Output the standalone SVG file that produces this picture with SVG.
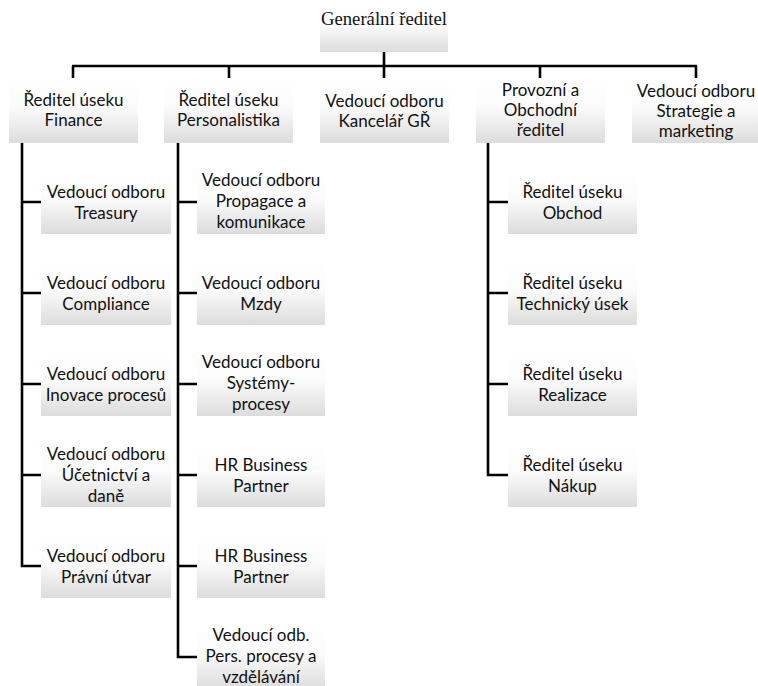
<svg xmlns="http://www.w3.org/2000/svg" width="758" height="686" viewBox="0 0 758 686">
<defs>
<linearGradient id="g" x1="0" y1="0" x2="0" y2="1">
<stop offset="0" stop-color="#ffffff"/>
<stop offset="0.45" stop-color="#fbfbfb"/>
<stop offset="1" stop-color="#dcdcdc"/>
</linearGradient>
</defs>
<style>
.box{fill:url(#g);stroke:none}
.t{font-family:Lato,"Liberation Sans",sans-serif;font-size:17px;fill:#111;text-anchor:middle}
.top{font-family:"Liberation Serif",serif;font-size:18.7px;fill:#111;text-anchor:middle}
.c{stroke:#000;stroke-width:2.6;fill:none}
</style>
<rect width="758" height="686" fill="#fff"/>
<g id="connectors">
<path class="c" d="M384 52V83M72 66H697M73 66V78M229 66V78M540 66V78M696 66V78"/>
<path class="c" d="M22 143V566H41M22 202H41M22 293H41M22 384H41M22 475H41"/>
<path class="c" d="M178 143V657H197M178 202H197M178 293H197M178 384H197M178 475H197M178 566H197"/>
<path class="c" d="M488 143V475H508M488 202H508M488 293H508M488 384H508"/>
</g>
<g id="n-gr"><rect class="box" x="320" y="4" width="128" height="48"/><text class="top" x="384" y="25">Generální ředitel</text></g>
<g id="n-fin"><rect class="box" x="9" y="78" width="129" height="65"/><text class="t" x="73.5" y="106">Ředitel úseku</text><text class="t" x="73.5" y="126">Finance</text></g>
<g id="n-per"><rect class="box" x="164" y="78" width="129" height="65"/><text class="t" x="228.5" y="106">Ředitel úseku</text><text class="t" x="228.5" y="126">Personalistika</text></g>
<g id="n-kan"><rect class="box" x="320" y="78" width="129" height="65"/><text class="t" x="384.5" y="107">Vedoucí odboru</text><text class="t" x="384.5" y="127">Kancelář GŘ</text></g>
<g id="n-pro"><rect class="box" x="476" y="78" width="129" height="65"/><text class="t" x="540.5" y="96">Provozní a</text><text class="t" x="540.5" y="116">Obchodní</text><text class="t" x="540.5" y="136">ředitel</text></g>
<g id="n-str"><rect class="box" x="632" y="78" width="128" height="65"/><text class="t" x="696" y="97">Vedoucí odboru</text><text class="t" x="696" y="117">Strategie a</text><text class="t" x="696" y="137">marketing</text></g>

<g id="n-f1"><rect class="box" x="41" y="170" width="130" height="64"/><text class="t" x="106" y="198">Vedoucí odboru</text><text class="t" x="106" y="219">Treasury</text></g>
<g id="n-f2"><rect class="box" x="41" y="261" width="130" height="64"/><text class="t" x="106" y="289">Vedoucí odboru</text><text class="t" x="106" y="310">Compliance</text></g>
<g id="n-f3"><rect class="box" x="41" y="352" width="130" height="64"/><text class="t" x="106" y="380">Vedoucí odboru</text><text class="t" x="106" y="401">Inovace procesů</text></g>
<g id="n-f4"><rect class="box" x="41" y="443" width="130" height="64"/><text class="t" x="106" y="460">Vedoucí odboru</text><text class="t" x="106" y="481">Účetnictví a</text><text class="t" x="106" y="502">daně</text></g>
<g id="n-f5"><rect class="box" x="41" y="534" width="130" height="64"/><text class="t" x="106" y="562">Vedoucí odboru</text><text class="t" x="106" y="583">Právní útvar</text></g>

<g id="n-p1"><rect class="box" x="197" y="170" width="128" height="64"/><text class="t" x="261" y="186">Vedoucí odboru</text><text class="t" x="261" y="207">Propagace a</text><text class="t" x="261" y="228">komunikace</text></g>
<g id="n-p2"><rect class="box" x="197" y="261" width="128" height="64"/><text class="t" x="261" y="289">Vedoucí odboru</text><text class="t" x="261" y="310">Mzdy</text></g>
<g id="n-p3"><rect class="box" x="197" y="352" width="128" height="64"/><text class="t" x="261" y="368">Vedoucí odboru</text><text class="t" x="261" y="389">Systémy-</text><text class="t" x="261" y="410">procesy</text></g>
<g id="n-p4"><rect class="box" x="197" y="443" width="128" height="64"/><text class="t" x="261" y="471">HR Business</text><text class="t" x="261" y="492">Partner</text></g>
<g id="n-p5"><rect class="box" x="197" y="534" width="128" height="64"/><text class="t" x="261" y="562">HR Business</text><text class="t" x="261" y="583">Partner</text></g>
<g id="n-p6"><rect class="box" x="197" y="625" width="128" height="64"/><text class="t" x="261" y="641">Vedoucí odb.</text><text class="t" x="261" y="662">Pers. procesy a</text><text class="t" x="261" y="683">vzdělávání</text></g>

<g id="n-o1"><rect class="box" x="508" y="170" width="129" height="64"/><text class="t" x="572.5" y="198">Ředitel úseku</text><text class="t" x="572.5" y="219">Obchod</text></g>
<g id="n-o2"><rect class="box" x="508" y="261" width="129" height="64"/><text class="t" x="572.5" y="289">Ředitel úseku</text><text class="t" x="572.5" y="310">Technický úsek</text></g>
<g id="n-o3"><rect class="box" x="508" y="352" width="129" height="64"/><text class="t" x="572.5" y="380">Ředitel úseku</text><text class="t" x="572.5" y="401">Realizace</text></g>
<g id="n-o4"><rect class="box" x="508" y="443" width="129" height="64"/><text class="t" x="572.5" y="471">Ředitel úseku</text><text class="t" x="572.5" y="492">Nákup</text></g>
</svg>
